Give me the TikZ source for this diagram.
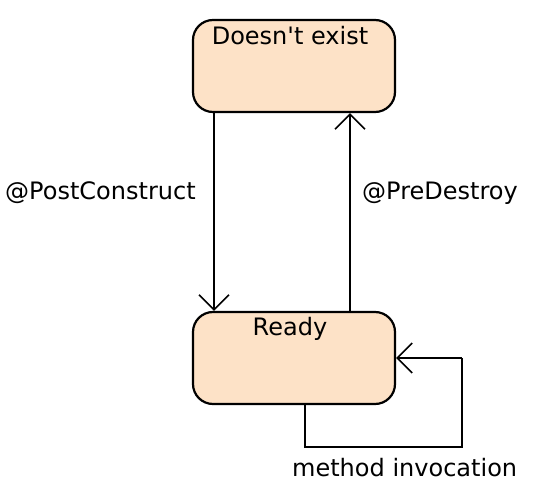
\documentclass[tikz,border=0pt]{standalone}
\usepackage{fontspec}
\setmainfont{DejaVu Sans}[Ligatures=TeXOff]
\usetikzlibrary{arrows.meta}
\definecolor{peach}{RGB}{253,226,199}
\tikzset{
  statebox/.style={draw=black, line width=2.2pt, fill=peach, rounded corners=20pt, minimum width=202pt, minimum height=92pt, inner sep=0pt},
  lbl/.style={font=\fontsize{24}{28}\selectfont, inner sep=0pt},
  conn/.style={line width=2pt, -{Straight Barb[length=15pt,width=30pt,line width=1.6pt]}}
}
\begin{document}
\begin{tikzpicture}[x=1pt,y=-1pt]
\useasboundingbox (0,0) rectangle (535,486);
\node[statebox] (dne) at (294,66) {};
\node[lbl, anchor=north] (dnet) at (290,26) {Doesn't exist};
\node[statebox] (ready) at (294,358) {};
\node[lbl, anchor=north] (readyt) at (290,317) {Ready};
\draw[conn] (dne.south -| 214,0) -- (ready.north -| 214,0);
\draw[conn] (ready.north -| 350,0) -- (dne.south -| 350,0);
\node[lbl, anchor=west] (post) at (5,193) {@PostConstruct};
\node[lbl, anchor=west] (pre) at (362,193) {@PreDestroy};
\coordinate (c1) at (305,447);
\coordinate (c2) at (462,447);
\coordinate (c3) at (462,358);
\draw[line width=2pt] (ready.south -| c1) -- (c1) -- (c2) -- (c3);
\draw[conn] (c3) -- (ready.east);
\node[lbl, anchor=west] (mi) at (292,468) {method invocation};
\end{tikzpicture}
\end{document}
